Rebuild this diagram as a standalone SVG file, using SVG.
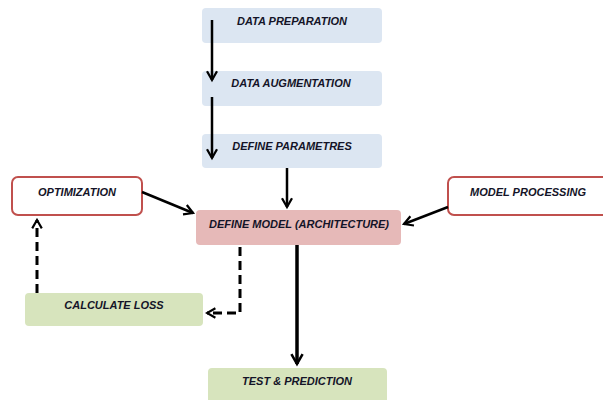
<svg xmlns="http://www.w3.org/2000/svg" width="603" height="400" viewBox="0 0 603 400">
<defs>
<style>
.t{font-family:"Liberation Sans",Arial,sans-serif;font-weight:bold;font-style:italic;font-size:11px;fill:#141428;text-anchor:middle}
.blue{fill:#DCE6F2}
.green{fill:#D7E4BD}
.pink{fill:#E6B9B8}
.red{fill:#ffffff;stroke:#C0504D;stroke-width:2}
.c{fill:none;stroke:#000;stroke-width:2.5}
.c2{fill:none;stroke:#000;stroke-width:3.5}
.d{fill:none;stroke:#000;stroke-width:3;stroke-dasharray:9,5}
</style>
<marker id="ah" viewBox="0 0 10 10" refX="8" refY="5" markerWidth="5" markerHeight="5" orient="auto" markerUnits="strokeWidth">
<polyline points="1,1 8,5 1,9" fill="none" stroke="#000" stroke-width="1.8"/>
</marker>
<marker id="ah2" viewBox="0 0 10 10" refX="8" refY="5" markerWidth="4" markerHeight="4" orient="auto" markerUnits="strokeWidth">
<polyline points="1,1 8,5 1,9" fill="none" stroke="#000" stroke-width="1.8"/>
</marker>
</defs>
<rect width="603" height="400" fill="#ffffff"/>
<g id="data-preparation"><rect class="blue" x="202" y="8" width="180" height="35" rx="4"/><text class="t" x="292" y="25">DATA PREPARATION</text></g>
<g id="data-augmentation"><rect class="blue" x="202" y="71" width="180" height="35" rx="4"/><text class="t" x="291" y="87">DATA AUGMENTATION</text></g>
<g id="define-parametres"><rect class="blue" x="202" y="134" width="180" height="34" rx="4"/><text class="t" x="292" y="150">DEFINE PARAMETRES</text></g>
<g id="optimization"><rect class="red" x="12" y="177" width="130" height="38" rx="6"/><text class="t" x="77" y="196">OPTIMIZATION</text></g>
<g id="model-processing"><rect class="red" x="448" y="177" width="165" height="38" rx="6"/><text class="t" x="528" y="196">MODEL PROCESSING</text></g>
<g id="define-model"><rect class="pink" x="196" y="210" width="205" height="35" rx="4"/><text class="t" x="299" y="228">DEFINE MODEL (ARCHITECTURE)</text></g>
<g id="calculate-loss"><rect class="green" x="25" y="293" width="178" height="33" rx="4"/><text class="t" x="114" y="309">CALCULATE LOSS</text></g>
<g id="test-prediction"><rect class="green" x="208" y="368" width="179" height="40" rx="4"/><text class="t" x="297" y="385">TEST &amp; PREDICTION</text></g>
<g id="connectors">
<line class="c" x1="212" y1="20" x2="212" y2="80" marker-end="url(#ah)"/>
<line class="c" x1="212" y1="97" x2="212" y2="158" marker-end="url(#ah)"/>
<line class="c" x1="287" y1="168" x2="287" y2="207" marker-end="url(#ah)"/>
<line class="c" x1="142" y1="192" x2="193" y2="213" marker-end="url(#ah)"/>
<line class="c" x1="448" y1="207" x2="404" y2="224" marker-end="url(#ah)"/>
<line class="c2" x1="297" y1="245" x2="297" y2="364" marker-end="url(#ah2)"/>
<polyline class="d" points="240,247 240,313 207,313" marker-end="url(#ah2)"/>
<line class="d" x1="37" y1="293" x2="37" y2="220" marker-end="url(#ah2)"/>
</g>
</svg>
